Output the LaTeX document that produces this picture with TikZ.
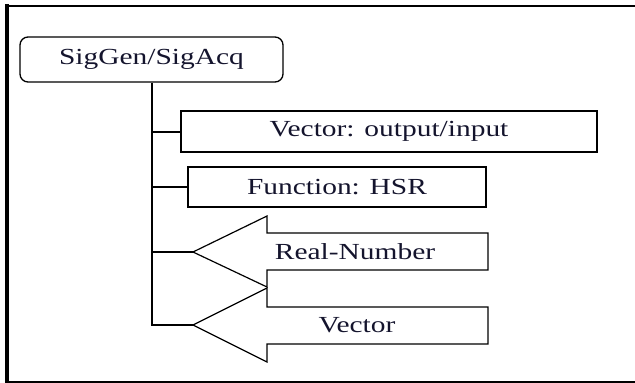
\documentclass[tikz,border=0pt]{standalone}
\usepackage{fontspec}
\setmainfont[FakeStretch=1.28]{Liberation Serif}
\definecolor{txt}{RGB}{20,20,45}
\begin{document}
\begin{tikzpicture}[x=1pt,y=-1pt,
  lbl/.style={font=\fontsize{23}{27}\selectfont, text=txt, inner sep=0pt},
  rootbox/.style={draw, line width=1.3pt, rounded corners=8pt, inner sep=0pt},
  itembox/.style={draw, line width=2pt, inner sep=0pt},
  arrowshape/.style={draw, line width=1.2pt, line join=miter},
  conn/.style={line width=2pt}]
\useasboundingbox (0,0) rectangle (635,383);
% frame
\draw[line width=4pt] (7,4) -- (7,383);
\draw[line width=2pt] (5,5.7) -- (635,5.7);
\draw[line width=1.5pt] (5,382) -- (635,382);
% root
\node[rootbox, lbl, minimum width=263pt, minimum height=45pt] (root) at (151.5,59.5) {SigGen/SigAcq};
% boxes
\node[itembox, lbl, minimum width=416pt, minimum height=41pt] (b1) at (389,131.5) {Vector: output/input};
\node[itembox, lbl, minimum width=298pt, minimum height=40pt] (b2) at (337,187) {Function: HSR};
% arrows
\coordinate (t1) at (193,252);
\coordinate (t2) at (193,325);
\draw[arrowshape] (t1) -- (267,216) -- (267,233) -- (488,233) -- (488,270) -- (267,270) -- (267,287) -- cycle;
\draw[arrowshape] (t2) -- (267,288) -- (267,307) -- (488,307) -- (488,344) -- (267,344) -- (267,362) -- cycle;
\node[lbl] (a1) at (355,252) {Real-Number};
\node[lbl] (a2) at (357,325) {Vector};
% connectors
\coordinate (trunk) at (root.south |- t2);
\draw[conn, line join=miter] (root.south) -- (trunk) -- (t2);
\draw[conn] (root.south |- b1.west) -- (b1.west);
\draw[conn] (root.south |- b2.west) -- (b2.west);
\draw[conn] (root.south |- t1) -- (t1);
\end{tikzpicture}
\end{document}
